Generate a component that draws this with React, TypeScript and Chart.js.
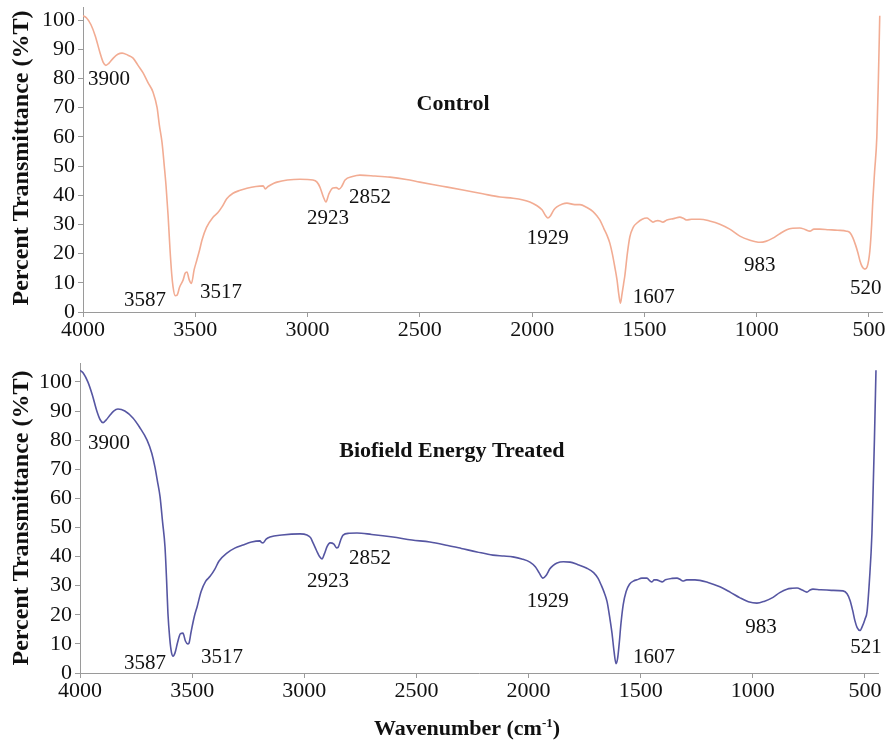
import React, { useEffect, useRef } from 'react';
import { Chart, registerables } from 'chart.js';

Chart.register(...registerables);

// ---------- data ----------
const xTicks = [4000, 3500, 3000, 2500, 2000, 1500, 1000, 500];
const yTicks = [0, 10, 20, 30, 40, 50, 60, 70, 80, 90, 100];

const controlWn = [
  4000, 3985, 3965, 3945, 3925, 3910, 3898, 3885, 3865, 3845, 3826, 3800, 3777, 3755, 3733, 3710, 3688, 3670, 3660, 3648,
  3638, 3630, 3621, 3613, 3605, 3599, 3590, 3581, 3570, 3554, 3545, 3537, 3527, 3517, 3505, 3493, 3480, 3470, 3450, 3421,
  3400, 3381, 3360, 3332, 3300, 3270, 3230, 3198, 3188, 3176, 3150, 3136, 3090, 3034, 2976, 2958, 2945, 2930, 2918, 2905,
  2887, 2872, 2860, 2848, 2833, 2800, 2767, 2700, 2633, 2560, 2500, 2400, 2308, 2220, 2143, 2085, 2040, 2010, 1980, 1956,
  1940, 1930, 1918, 1903, 1890, 1865, 1845, 1810, 1787, 1756, 1730, 1710, 1698, 1680, 1665, 1654, 1643, 1632, 1622, 1614,
  1607, 1600, 1593, 1587, 1576, 1565, 1550, 1533, 1510, 1489, 1475, 1462, 1450, 1440, 1431, 1418, 1400, 1370, 1342, 1325,
  1311, 1290, 1253, 1210, 1164, 1120, 1075, 1030, 1005, 986, 960, 928, 900, 866, 840, 808, 785, 763, 745, 719,
  680, 640, 600, 585, 572, 560, 550, 540, 530, 518, 508, 496, 488, 483, 475, 465, 458, 452,
];
const controlT = [
  101.5, 100.8, 98.5, 94.5, 89, 85.5, 84.5, 85.2, 87, 88.3, 88.7, 88, 87, 84.5, 82, 78.5, 75.3, 70, 64, 58,
  50, 43, 33, 22, 13, 8.6, 5.6, 5.8, 8.5, 11, 13.3, 13.7, 11, 9.8, 14.5, 17.8, 21.5, 24.7, 29, 32.5,
  34, 36, 38.8, 40.7, 41.7, 42.4, 43, 43.2, 42.2, 43, 44.1, 44.5, 45.2, 45.5, 45.2, 44.5, 42.8, 39.5, 37.7, 40.5,
  42.5, 42.6, 42.1, 43, 45.2, 46.4, 46.9, 46.6, 46.2, 45.4, 44.5, 43.1, 41.8, 40.5, 39.4, 39, 38.4, 37.7, 36.5, 35,
  33, 32.2, 33, 35, 36, 37, 37.3, 36.8, 36.8, 35.8, 34.5, 32.8, 31.5, 28.5, 26, 23.6, 20, 15.5, 11, 6,
  3, 6, 9.5, 12.5, 20, 25.7, 29, 30.5, 31.8, 32.2, 31.5, 30.8, 31.2, 31.3, 31.2, 30.8, 31.5, 32, 32.5, 32,
  31.5, 31.8, 31.8, 31.2, 30.1, 28.4, 26, 24.6, 24.1, 23.9, 24.2, 25.3, 26.7, 28.2, 28.7, 28.8, 28.3, 27.7, 28.4, 28.4,
  28.2, 28, 27.7, 27.2, 25.5, 23, 20.5, 17.5, 15.5, 14.7, 15.5, 21, 30, 38, 48, 60, 80, 101.5,
];

const treatedWn = [
  4000, 3985, 3965, 3945, 3925, 3910, 3897, 3885, 3865, 3850, 3831, 3800, 3764, 3735, 3701, 3680, 3666, 3655, 3643, 3632,
  3621, 3614, 3608, 3600, 3592, 3585, 3576, 3565, 3552, 3541, 3530, 3520, 3514, 3505, 3490, 3478, 3460, 3440, 3420, 3400,
  3380, 3345, 3310, 3273, 3235, 3198, 3190, 3184, 3170, 3153, 3100, 3019, 2988, 2972, 2961, 2945, 2932, 2921, 2910, 2898,
  2885, 2868, 2856, 2850, 2838, 2827, 2800, 2765, 2700, 2605, 2520, 2440, 2360, 2300, 2230, 2159, 2110, 2070, 2030, 1994,
  1970, 1952, 1936, 1922, 1905, 1890, 1873, 1845, 1815, 1780, 1740, 1710, 1690, 1675, 1662, 1650, 1638, 1628, 1619, 1610,
  1603, 1596, 1588, 1578, 1565, 1550, 1530, 1517, 1495, 1472, 1460, 1450, 1440, 1428, 1416, 1405, 1390, 1360, 1338, 1325,
  1312, 1295, 1258, 1200, 1147, 1100, 1057, 1020, 982, 950, 910, 880, 848, 825, 803, 780, 759, 745, 732, 700,
  650, 598, 580, 567, 555, 545, 535, 522, 512, 500, 491, 480, 469, 465, 458, 451,
];
const treatedT = [
  104, 103, 100, 95.5, 90, 87, 86, 86.8, 88.7, 90, 90.7, 90, 87.6, 84.5, 80, 75.5, 70.8, 66, 60.5, 52,
  43.3, 32, 20.6, 12, 7, 5.8, 7, 10.5, 13.5, 13.7, 11, 10, 10.3, 14, 19.5, 22.7, 28, 31.5, 33.2, 35.5,
  38.5, 41.2, 42.9, 44, 45, 45.4, 44.8, 44.7, 46, 46.7, 47.4, 47.8, 47.4, 46.5, 44.7, 42, 40, 39.2, 41, 43.5,
  44.7, 44.3, 43, 43.1, 45.6, 47.4, 48, 48.1, 47.6, 46.7, 45.7, 45, 43.8, 42.8, 41.6, 40.5, 40.2, 39.9, 39.2, 38.1,
  36.5, 34.3, 32.6, 33.5, 35.8, 37, 37.8, 38.2, 38.1, 37.2, 36, 34.5, 32.5, 30, 27.5, 24.5, 19, 13.7, 7.5, 3.2,
  5, 10, 17, 23.5, 28, 30.5, 31.7, 32, 32.6, 32.6, 31.7, 31.3, 32, 32, 31.6, 31.3, 32, 32.5, 32.6, 32.2,
  31.6, 32, 32, 31.1, 29.6, 27.7, 25.8, 24.5, 24, 24.6, 26, 27.6, 28.8, 29.1, 29.2, 28.5, 27.8, 28.5, 28.8, 28.6,
  28.4, 28.2, 27.2, 25, 21.5, 18, 15.6, 14.6, 16, 18.5, 21, 32, 48, 59, 80, 104,
];

// peak annotations (text, anchored in data coordinates: wavenumber, %T)
const controlPeakText = ['3900', '3587', '3517', '2923', '2852', '1929', '1607', '983', '520'];
const controlPeakWn = [3884, 3724, 3386, 2909, 2722, 1930, 1458, 986, 514];
const controlPeakT = [79.5, 3.8, 6.8, 32.2, 39.4, 25.3, 5.1, 16.1, 8.2];

const treatedPeakText = ['3900', '3587', '3517', '2923', '2852', '1929', '1607', '983', '521'];
const treatedPeakWn = [3871, 3710, 3367, 2894, 2707, 1914, 1441, 964, 496];
const treatedPeakT = [79, 3.4, 5.5, 31.6, 39.2, 24.7, 5.2, 15.5, 8.6];

const panelTitles = ['Control', 'Biofield Energy Treated'];
const panelTitleWn = [2352, 2342];
const panelTitleT = [71.2, 76.3];

const yAxisTitle = 'Percent Transmittance (%T)';
const xAxisTitleMain = 'Wavenumber (cm';
const xAxisTitleSup = '-1';
const xAxisTitleEnd = ')';

// ---------- styling ----------
const SERIF = '"Liberation Serif", "Times New Roman", serif';
const AXIS = '#9a9a9a';
const TEXT = '#111111';

type Panel = {
  id: string;
  wn: number[];
  t: number[];
  color: string;
  peakText: string[];
  peakWn: number[];
  peakT: number[];
  title: string;
  titleWn: number;
  titleT: number;
  width: number;
  height: number;
  padTop: number;
  padRight: number;
  yAxisWidth: number;
  xAxisHeight: number;
  yMax: number;
  yTitleY: number;
  xTitle: boolean;
};

function makePlugin(p: Panel) {
  return {
    id: 'panelText_' + p.id,
    afterDatasetsDraw(chart: any) {
      const { ctx } = chart;
      const xs = chart.scales.x;
      const ys = chart.scales.y;
      ctx.save();
      ctx.fillStyle = TEXT;
      ctx.textAlign = 'center';
      ctx.textBaseline = 'middle';
      ctx.font = `21px ${SERIF}`;
      p.peakText.forEach((txt, i) => {
        ctx.fillText(txt, xs.getPixelForValue(p.peakWn[i]), ys.getPixelForValue(p.peakT[i]));
      });
      ctx.font = `bold 22px ${SERIF}`;
      ctx.fillText(p.title, xs.getPixelForValue(p.titleWn), ys.getPixelForValue(p.titleT));
      ctx.restore();

      // y axis title
      ctx.save();
      ctx.fillStyle = TEXT;
      ctx.font = `bold 24px ${SERIF}`;
      ctx.textAlign = 'center';
      ctx.textBaseline = 'middle';
      ctx.translate(22, p.yTitleY);
      ctx.rotate(-Math.PI / 2);
      ctx.fillText(yAxisTitle, 0, 0);
      ctx.restore();

      if (p.xTitle) {
        ctx.save();
        ctx.fillStyle = TEXT;
        ctx.textBaseline = 'alphabetic';
        ctx.textAlign = 'left';
        const mainFont = `bold 22px ${SERIF}`;
        const supFont = `bold 13px ${SERIF}`;
        ctx.font = mainFont;
        const w1 = ctx.measureText(xAxisTitleMain).width;
        const w3 = ctx.measureText(xAxisTitleEnd).width;
        ctx.font = supFont;
        const w2 = ctx.measureText(xAxisTitleSup).width;
        const total = w1 + w2 + w3;
        const cx = 467;
        const base = 390;
        let x0 = cx - total / 2;
        ctx.font = mainFont;
        ctx.fillText(xAxisTitleMain, x0, base);
        x0 += w1;
        ctx.font = supFont;
        ctx.fillText(xAxisTitleSup, x0, base - 8);
        x0 += w2;
        ctx.font = mainFont;
        ctx.fillText(xAxisTitleEnd, x0, base);
        ctx.restore();
      }
    },
  };
}

function buildChart(canvas: HTMLCanvasElement, p: Panel) {
  return new Chart(canvas, {
    type: 'line',
    data: {
      datasets: [
        {
          data: p.wn.map((w, i) => ({ x: w, y: p.t[i] })),
          borderColor: p.color,
          borderWidth: 1.6,
          pointRadius: 0,
          fill: false,
          cubicInterpolationMode: 'monotone',
        },
      ],
    },
    options: {
      responsive: false,
      animation: false,
      devicePixelRatio: 1,
      layout: { padding: { left: 0, right: p.padRight, top: p.padTop, bottom: 0 } },
      plugins: { legend: { display: false }, tooltip: { enabled: false } },
      scales: {
        x: {
          type: 'linear',
          reverse: true,
          min: 442,
          max: 4000,
          afterBuildTicks: (s: any) => {
            s.ticks = xTicks.map((v) => ({ value: v }));
          },
          afterFit: (s: any) => {
            s.height = p.xAxisHeight;
          },
          grid: { drawOnChartArea: false, drawTicks: true, tickLength: 5, color: AXIS },
          border: { display: true, color: AXIS, width: 1 },
          ticks: {
            color: TEXT,
            font: { family: SERIF, size: 22 },
            padding: 0,
            maxRotation: 0,
            autoSkip: false,
            callback: (v: any) => String(v),
          },
        },
        y: {
          type: 'linear',
          min: 0,
          max: p.yMax,
          afterBuildTicks: (s: any) => {
            s.ticks = yTicks.map((v) => ({ value: v }));
          },
          afterFit: (s: any) => {
            s.width = p.yAxisWidth;
          },
          grid: { drawOnChartArea: false, drawTicks: true, tickLength: 5, color: AXIS },
          border: { display: true, color: AXIS, width: 1 },
          ticks: {
            color: TEXT,
            font: { family: SERIF, size: 22, lineHeight: 0.3 },
            padding: 3,
            callback: (v: any) => String(v),
          },
        },
      },
    },
    plugins: [makePlugin(p)],
  } as any);
}

const topPanel: Panel = {
  id: 'control',
  wn: controlWn,
  t: controlT,
  color: '#F2AC93',
  peakText: controlPeakText,
  peakWn: controlPeakWn,
  peakT: controlPeakT,
  title: panelTitles[0],
  titleWn: panelTitleWn[0],
  titleT: panelTitleT[0],
  width: 888,
  height: 345,
  padTop: 7,
  padRight: 6,
  yAxisWidth: 83,
  xAxisHeight: 33,
  yMax: 104.5,
  yTitleY: 158,
  xTitle: false,
};

const bottomPanel: Panel = {
  id: 'treated',
  wn: treatedWn,
  t: treatedT,
  color: '#5656A2',
  peakText: treatedPeakText,
  peakWn: treatedPeakWn,
  peakT: treatedPeakT,
  title: panelTitles[1],
  titleWn: panelTitleWn[1],
  titleT: panelTitleT[1],
  width: 888,
  height: 402,
  padTop: 18,
  padRight: 10,
  yAxisWidth: 80,
  xAxisHeight: 74,
  yMax: 106.5,
  yTitleY: 173,
  xTitle: true,
};

function PanelChart({ p }: { p: Panel }) {
  const ref = useRef<HTMLCanvasElement | null>(null);
  useEffect(() => {
    if (!ref.current) return;
    const chart = buildChart(ref.current, p);
    return () => chart.destroy();
  }, [p]);
  return (
    <canvas
      ref={ref}
      width={p.width}
      height={p.height}
      style={{ display: 'block', width: p.width, height: p.height }}
    />
  );
}

export default function App() {
  return (
    <div
      style={{
        position: 'absolute',
        left: 0,
        top: 0,
        width: 888,
        height: 747,
        background: '#ffffff',
        overflow: 'hidden',
      }}
    >
      <PanelChart p={topPanel} />
      <PanelChart p={bottomPanel} />
    </div>
  );
}
